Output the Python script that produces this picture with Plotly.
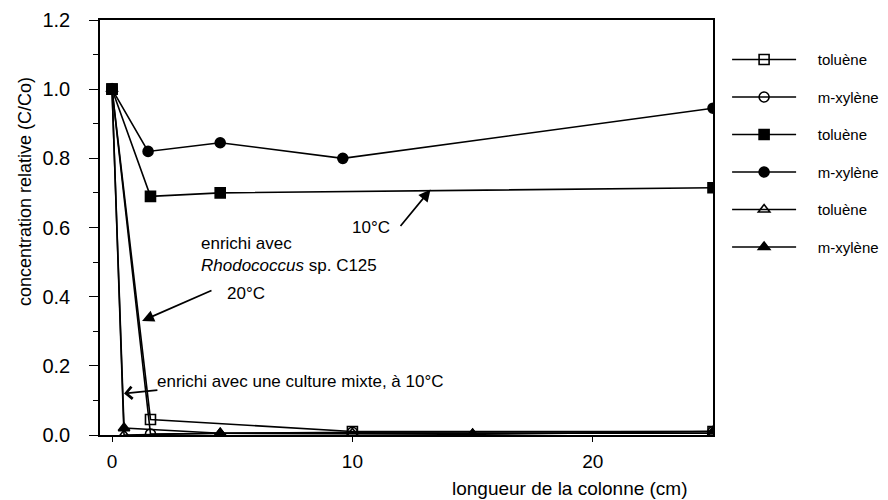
import plotly.graph_objects as go

# Data
tol20_x = [0, 1.6, 10, 25]
tol20_y = [1.0, 0.045, 0.01, 0.01]
xyl20_x = [0, 1.6, 10, 25]
xyl20_y = [1.0, 0.003, 0.008, 0.01]
tol10_x = [0, 1.6, 4.5, 25]
tol10_y = [1.0, 0.69, 0.70, 0.715]
xyl10_x = [0, 1.5, 4.5, 9.6, 25]
xyl10_y = [1.0, 0.82, 0.845, 0.80, 0.945]
tolmix_x = [0, 0.5, 4.5, 10, 15, 25]
tolmix_y = [1.0, 0.0, 0.005, 0.005, 0.003, 0.005]
xylmix_x = [0, 0.5, 4.5, 15, 25]
xylmix_y = [1.0, 0.02, 0.005, 0.002, 0.01]

series = [
    ("toluène", tol20_x, tol20_y, "square-open"),
    ("m-xylène", xyl20_x, xyl20_y, "circle-open"),
    ("toluène", tol10_x, tol10_y, "square"),
    ("m-xylène", xyl10_x, xyl10_y, "circle"),
    ("toluène", tolmix_x, tolmix_y, "triangle-up-open"),
    ("m-xylène", xylmix_x, xylmix_y, "triangle-up"),
]

FONT = "Liberation Sans, Arial, sans-serif"
NB = "\u00a0" * 4
fig = go.Figure()
for i, (name, xs, ys, sym) in enumerate(series):
    fig.add_trace(go.Scatter(
        x=xs, y=ys, name=NB + name, mode="lines+markers", legendgroup=str(i),
        line=dict(color="black", width=1.6),
        marker=dict(symbol=sym, size=10, color="black",
                    line=dict(color="black", width=1.6)),
    ))

L, R, T, B = 100, 713, 20, 435
PW, PH = R - L, B - T

annos = []
def arrow(x, y, ax, ay, head=2):
    annos.append(dict(x=x, y=y, ax=ax, ay=ay, xref="x", yref="y", axref="x", ayref="y",
                      text="", showarrow=True, arrowhead=head, arrowsize=1.4,
                      arrowwidth=1.7, arrowcolor="black"))

arrow(13.25, 0.71, 11.95, 0.60)
arrow(1.25, 0.33, 4.2, 0.42)
arrow(0.5, 0.12, 1.95, 0.13, head=4)

def text(x, y, t, size=17):
    annos.append(dict(x=x, y=y, xref="x", yref="y", text=t, showarrow=False,
                      xanchor="left", yanchor="middle", align="left",
                      font=dict(family=FONT, size=size, color="black")))

text(9.9, 0.60, "10°C")
text(3.6, 0.522, "enrichi avec<br><i>Rhodococcus</i> sp. C125", size=17)
text(4.7, 0.41, "20°C")
text(1.8, 0.155, "enrichi avec une culture mixte, à 10°C")

def ptext(px, py, t, size, angle=0):
    annos.append(dict(x=(px - L) / PW, y=1 - (py - T) / PH, xref="paper", yref="paper",
                      text=t, showarrow=False, textangle=angle,
                      xanchor="center", yanchor="middle",
                      font=dict(family=FONT, size=size, color="black")))

ptext(570, 488, "longueur de la colonne (cm)", 19)
ptext(25, 192, "concentration relative (C/Co)", 18, angle=-90)

fig.update_layout(
    width=888, height=500,
    margin=dict(l=L, r=888 - R, t=T, b=500 - B, autoexpand=False),
    paper_bgcolor="white", plot_bgcolor="white",
    font=dict(family=FONT, color="black"),
    annotations=annos,
    showlegend=True,
    legend=dict(x=1.023, y=0.944, xanchor="left", yanchor="top",
                font=dict(family=FONT, size=15, color="black"),
                tracegroupgap=15, itemwidth=64, bgcolor="rgba(0,0,0,0)"),
    xaxis=dict(range=[-0.5, 25], tickvals=[0, 10, 20], showgrid=False, zeroline=False,
               showline=True, linecolor="black", linewidth=1.5, mirror=True,
               ticks="outside", ticklen=5, tickcolor="black", tickwidth=1.3,
               ticklabelstandoff=3,
               tickfont=dict(family=FONT, size=19, color="black")),
    yaxis=dict(range=[0, 1.2], dtick=0.2, tickformat=".1f", showgrid=False, zeroline=False,
               showline=True, linecolor="black", linewidth=1.5, mirror=True,
               ticks="outside", ticklen=9, tickcolor="black", tickwidth=1.3,
               ticklabelstandoff=15,
               minor=dict(dtick=0.1, ticks="outside", ticklen=5, tickcolor="black"),
               tickfont=dict(family=FONT, size=20, color="black")),
)

fig.write_html("out.html")
